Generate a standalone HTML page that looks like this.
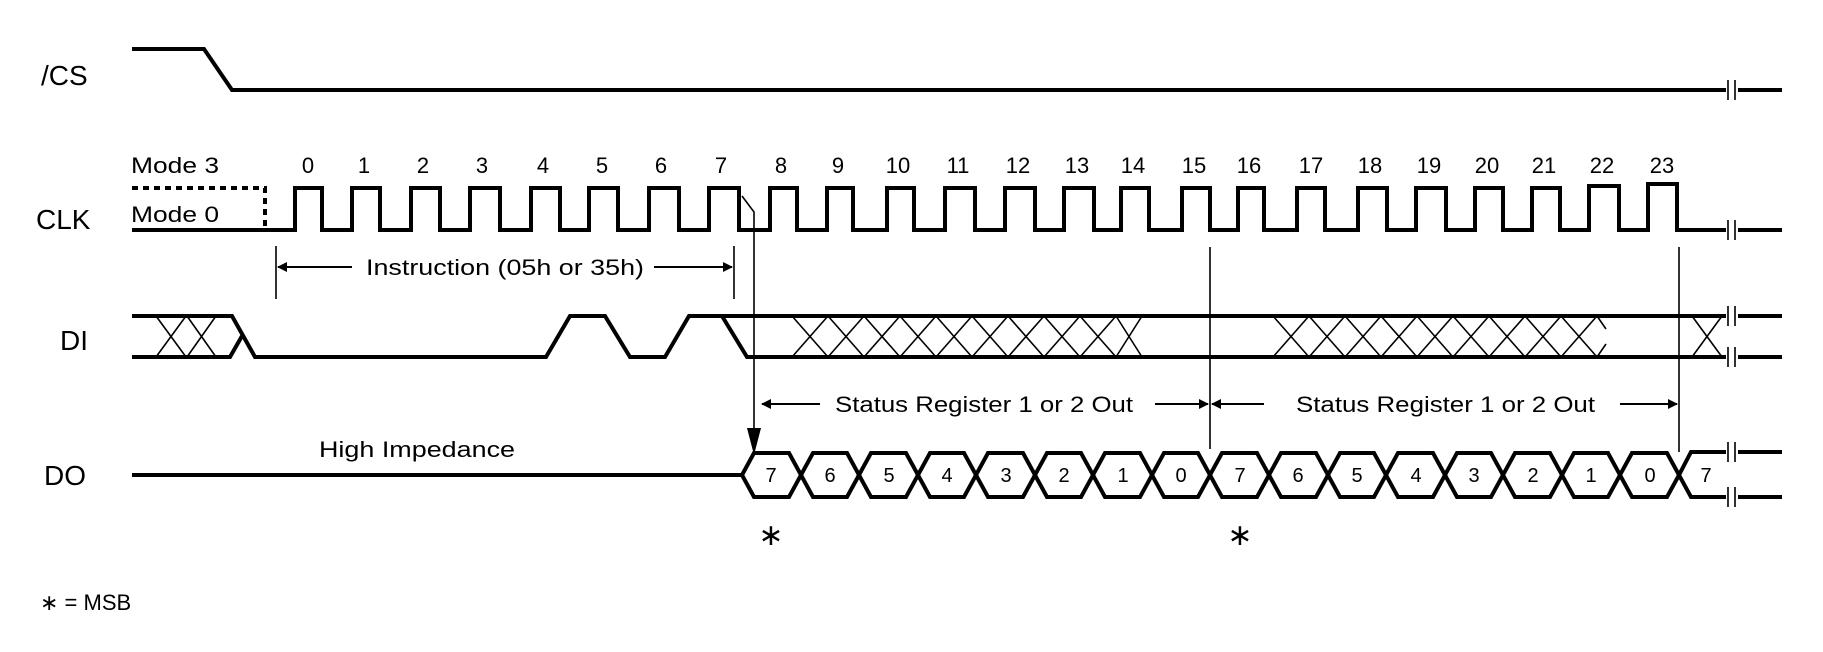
<!DOCTYPE html>
<html><head><meta charset="utf-8"><style>
html,body{margin:0;padding:0;background:#fff;}
svg{display:block;}
text{font-family:"Liberation Sans",sans-serif;fill:#000;}
</style></head><body>
<svg width="1823" height="652" viewBox="0 0 1823 652" xmlns="http://www.w3.org/2000/svg">
<defs>
<marker id="ah" markerWidth="10" markerHeight="10" refX="9" refY="5" orient="auto" markerUnits="userSpaceOnUse" viewBox="0 0 10 10"><path d="M0,0 L10,5 L0,10 z" fill="#000"/></marker>
</defs>
<g fill="none" stroke="#000" stroke-width="4">
<!-- /CS -->
<path d="M132,49 H204 L232,90 H1726 M1738,90 H1782"/>
<!-- CLK -->
<path d="M132,230 H295 V188 H322 V230 H352 V188 H380 V230 H411 V188 H440 V230 H470 V188 H500 V230 H531 V188 H560 V230 H589 V188 H618 V230 H649 V188 H679 V230 H709 V188 H739 V230 H770 V188 H797 V230 H827 V188 H853 V230 H887 V188 H914 V230 H945 V188 H975 V230 H1005 V188 H1035 V230 H1064 V188 H1094 V230 H1121 V188 H1149 V230 H1182 V188 H1210 V230 H1238 V188 H1264 V230 H1297 V188 H1325 V230 H1358 V188 H1387 V230 H1416 V188 H1446 V230 H1475 V188 H1503 V230 H1532 V188 H1560 V230 H1589 V186 H1619 V230 H1648 V184 H1677 V230 H1726 M1738,230 H1782"/>
<path d="M132,188 H265 V230" stroke-dasharray="6,5"/>
<!-- DI -->
<path d="M132,316 H232 L255,357 H546 L570,316 H605 L630,357 H665 L689,316 H1726 M1738,316 H1782"/>
<path d="M132,357 H230 L242,336 M722,316 L747,357 H1726 M1738,357 H1782"/>
<!-- DO -->
<path d="M132,475 H742"/>
<path d="M742,475 L754,453 H789 L801,475 L813,453 H847 L859,475 L871,453 H906 L918,475 L930,453 H964 L976,475 L988,453 H1023 L1035,475 L1047,453 H1081 L1093,475 L1105,453 H1140 L1152,475 L1164,453 H1198 L1210,475 L1222,453 H1257 L1269,475 L1281,453 H1316 L1328,475 L1340,453 H1374 L1386,475 L1398,453 H1433 L1445,475 L1457,453 H1491 L1503,475 L1515,453 H1550 L1562,475 L1574,453 H1608 L1620,475 L1632,453 H1667 L1679,475 L1691,452 H1726 M1738,452 H1782"/>
<path d="M742,475 L754,497 H789 L801,475 L813,497 H847 L859,475 L871,497 H906 L918,475 L930,497 H964 L976,475 L988,497 H1023 L1035,475 L1047,497 H1081 L1093,475 L1105,497 H1140 L1152,475 L1164,497 H1198 L1210,475 L1222,497 H1257 L1269,475 L1281,497 H1316 L1328,475 L1340,497 H1374 L1386,475 L1398,497 H1433 L1445,475 L1457,497 H1491 L1503,475 L1515,497 H1550 L1562,475 L1574,497 H1608 L1620,475 L1632,497 H1667 L1679,475 L1691,497 H1726 M1738,497 H1782"/>
</g>
<g fill="none" stroke="#000" stroke-width="1.6">
<!-- breaks -->
<path d="M1728,80 V100 M1735,80 V100 M1728,220 V240 M1735,220 V240 M1728,306 V326 M1735,306 V326 M1728,347 V367 M1735,347 V367 M1728,442 V462 M1735,442 V462 M1728,487 V507 M1735,487 V507"/>
<!-- DI X's -->
<path d="M156,316 L186,357 M156,357 L186,316 M187,316 L216,357 M187,357 L216,316"/>
<path d="M792,316 L828,357 M792,357 L828,316 M828,316 L864,357 M828,357 L864,316 M864,316 L900,357 M864,357 L900,316 M900,316 L936,357 M900,357 L936,316 M936,316 L972,357 M936,357 L972,316 M972,316 L1008,357 M972,357 L1008,316 M1008,316 L1044,357 M1008,357 L1044,316 M1044,316 L1080,357 M1044,357 L1080,316 M1080,316 L1116,357 M1080,357 L1116,316 M1116,316 L1142,357 M1116,357 L1142,316"/>
<path d="M1273,316 L1309,357 M1273,357 L1309,316 M1309,316 L1345,357 M1309,357 L1345,316 M1345,316 L1381,357 M1345,357 L1381,316 M1381,316 L1417,357 M1381,357 L1417,316 M1417,316 L1453,357 M1417,357 L1453,316 M1453,316 L1489,357 M1453,357 L1489,316 M1489,316 L1525,357 M1489,357 L1525,316 M1525,316 L1561,357 M1525,357 L1561,316 M1561,316 L1597,357 M1561,357 L1597,316 M1597,316 L1606,329 M1597,357 L1606,344"/>
<path d="M1692,316 L1722,357 M1692,357 L1722,316"/>
<!-- markers -->
<path d="M276,246 V299 M734,246 V299 M1210,247 V449 M1679,247 V452"/>
<path d="M742,196 L754,212 V440"/>
</g>
<g stroke="#000" stroke-width="2" fill="none">
<path d="M352,267 H278" marker-end="url(#ah)"/>
<path d="M654,267 H732" marker-end="url(#ah)"/>
<path d="M820,404 H762" marker-end="url(#ah)"/>
<path d="M1155,404 H1208" marker-end="url(#ah)"/>
<path d="M1264,404 H1212" marker-end="url(#ah)"/>
<path d="M1620,404 H1677" marker-end="url(#ah)"/>
</g>
<path d="M747,428 L761,428 L754,455 z" fill="#000"/>
<!-- labels -->
<g font-size="28">
<text x="41" y="85">/CS</text>
<text x="36" y="229">CLK</text>
<text x="60" y="350">DI</text>
<text x="44" y="485">DO</text>
</g>
<g font-size="22">
<text x="131" y="173" textLength="88" lengthAdjust="spacingAndGlyphs">Mode 3</text>
<text x="131" y="222" textLength="88" lengthAdjust="spacingAndGlyphs">Mode 0</text>
<text x="366" y="275" textLength="278" lengthAdjust="spacingAndGlyphs">Instruction (05h or 35h)</text>
<text x="835" y="412" textLength="298" lengthAdjust="spacingAndGlyphs">Status Register 1 or 2 Out</text>
<text x="1296" y="412" textLength="299" lengthAdjust="spacingAndGlyphs">Status Register 1 or 2 Out</text>
<text x="319" y="457" textLength="196" lengthAdjust="spacingAndGlyphs">High Impedance</text>
<text x="40" y="610">&#x2217; = MSB</text>
</g>
<g font-size="22" text-anchor="middle">
<text x="308" y="173">0</text><text x="364" y="173">1</text><text x="423" y="173">2</text><text x="482" y="173">3</text><text x="543" y="173">4</text><text x="602" y="173">5</text><text x="661" y="173">6</text><text x="721" y="173">7</text><text x="781" y="173">8</text><text x="838" y="173">9</text><text x="898" y="173">10</text><text x="958" y="173">11</text><text x="1018" y="173">12</text><text x="1077" y="173">13</text><text x="1133" y="173">14</text><text x="1194" y="173">15</text><text x="1249" y="173">16</text><text x="1311" y="173">17</text><text x="1370" y="173">18</text><text x="1429" y="173">19</text><text x="1487" y="173">20</text><text x="1544" y="173">21</text><text x="1602" y="173">22</text><text x="1662" y="173">23</text>
</g>
<g font-size="20" text-anchor="middle">
<text x="771" y="482">7</text><text x="830" y="482">6</text><text x="889" y="482">5</text><text x="947" y="482">4</text><text x="1006" y="482">3</text><text x="1064" y="482">2</text><text x="1123" y="482">1</text><text x="1181" y="482">0</text><text x="1240" y="482">7</text><text x="1298" y="482">6</text><text x="1357" y="482">5</text><text x="1416" y="482">4</text><text x="1474" y="482">3</text><text x="1533" y="482">2</text><text x="1591" y="482">1</text><text x="1650" y="482">0</text><text x="1706" y="482">7</text>
</g>
<g font-size="30" text-anchor="middle">
<text x="771" y="545">&#x2217;</text>
<text x="1240" y="545">&#x2217;</text>
</g>
</svg>
</body></html>
